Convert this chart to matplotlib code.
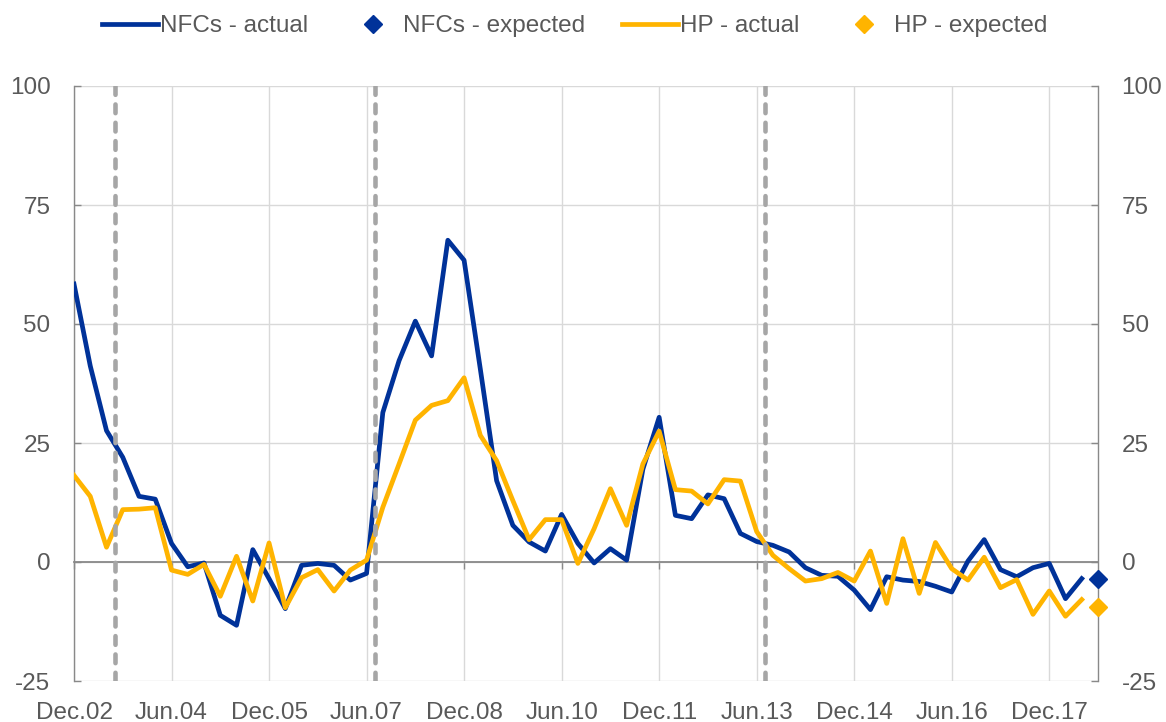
import numpy as np
import matplotlib
matplotlib.use("Agg")
import matplotlib.pyplot as plt

plt.rcParams['font.family'] = ['Liberation Sans', 'DejaVu Sans']
plt.rcParams['axes.unicode_minus'] = False

# ---------------- data ----------------
tick_labels = ["Dec.02", "Jun.04", "Dec.05", "Jun.07", "Dec.08", "Jun.10",
               "Dec.11", "Jun.13", "Dec.14", "Jun.16", "Dec.17"]

nfc_actual = [58.4, 41.2, 27.6, 22.0, 13.8, 13.2, 3.9, -1.0, -0.2, -11.2,
              -13.3, 2.6, -3.5, -9.8, -0.7, -0.3, -0.7, -3.8, -2.4, 31.4,
              42.3, 50.6, 43.3, 67.6, 63.4, 40.5, 17.1, 7.7, 4.2, 2.3,
              10.0, 3.9, -0.2, 2.8, 0.4, 19.5, 30.4, 9.8, 9.1, 14.1,
              13.3, 6.0, 4.3, 3.5, 2.1, -1.2, -2.8, -3.0, -5.9, -10.0,
              -3.1, -3.8, -4.1, -5.1, -6.3, 0.2, 4.7, -1.6, -3.1, -1.2,
              -0.3, -7.7, -3.5]
hp_actual = [18.2, 13.8, 3.1, 11.0, 11.1, 11.4, -1.7, -2.6, -0.5, -7.2,
             1.2, -8.2, 4.0, -9.6, -3.3, -1.6, -6.1, -1.7, 0.4, 11.5,
             20.6, 29.8, 32.9, 33.9, 38.7, 26.6, 21.3, 12.9, 4.7, 8.9,
             8.9, -0.3, 7.0, 15.4, 7.7, 20.6, 27.5, 15.2, 14.9, 12.2,
             17.3, 17.0, 6.4, 1.4, -1.4, -4.0, -3.5, -2.2, -4.0, 2.3,
             -8.7, 4.9, -6.6, 4.1, -1.4, -3.8, 1.0, -5.4, -3.7, -11.0,
             -6.1, -11.4, -7.9]
nfc_expected = [-3.5]
hp_expected = [-9.4]

# quarter positions of the dashed vertical markers (between quarters)
breaks = [2.5, 18.5, 42.5]

# ---------------- styling ----------------
BLUE = "#003299"
ORANGE = "#FFB400"
TXT = "#595959"
AX = "#898989"
GRID = "#D9D9D9"

fig = plt.figure(figsize=(11.66, 7.22), dpi=100)
ax = fig.add_axes([74 / 1166, 1 - 681 / 722, (1098 - 74) / 1166, (681 - 86) / 722])

x_act = np.arange(len(nfc_actual))
x_exp = np.arange(len(nfc_actual), len(nfc_actual) + len(nfc_expected))

ax.plot(x_act, nfc_actual, color=BLUE, lw=3.4, zorder=3, label="NFCs - actual")
ax.plot(x_exp, nfc_expected, color=BLUE, marker='D', ms=9.5, zorder=4,
        label="NFCs - expected", linestyle='none', clip_on=False)
ax.plot(x_act, hp_actual, color=ORANGE, lw=3.4, zorder=3.5, label="HP - actual")
ax.plot(x_exp, hp_expected, color=ORANGE, marker='D', ms=9.5, zorder=4,
        label="HP - expected", linestyle='none', clip_on=False)

for b in breaks:
    ax.axvline(b, color="#A6A6A6", lw=3.3, dashes=(1.9, 2.1),
               dash_capstyle='round', zorder=5)

ax.set_xlim(0, len(nfc_actual))
ax.set_ylim(-25, 100)
ax.set_yticks([-25, 0, 25, 50, 75, 100])
xt = np.arange(0, 6 * len(tick_labels), 6)
ax.set_xticks(xt)
ax.grid(True, color=GRID, lw=1.0, zorder=0)
ax.set_axisbelow(True)

for s in ['left', 'right']:
    ax.spines[s].set_color(AX)
    ax.spines[s].set_linewidth(1.0)
ax.spines['top'].set_visible(False)
ax.spines['bottom'].set_position(('data', 0))
ax.spines['bottom'].set_color(AX)
ax.spines['bottom'].set_linewidth(1.3)
ax.spines['bottom'].set_zorder(2)

ax.tick_params(axis='x', direction='out', length=5, color=AX, width=1,
               labelbottom=False)
ax.tick_params(axis='y', direction='in', length=5, color=AX, width=1,
               left=True, right=True, labelleft=True, labelright=True,
               labelsize=17.5, labelcolor=TXT, pad=17)

sec = ax.secondary_xaxis(0)
sec.set_xticks(xt, tick_labels)
sec.tick_params(length=0, pad=15, labelsize=17.5, labelcolor=TXT)
sec.spines['bottom'].set_visible(False)

handles, labels = ax.get_legend_handles_labels()
fig.legend(handles, labels, loc='center', bbox_to_anchor=(575 / 1166, 1 - 26 / 722),
           ncol=4, frameon=False, fontsize=17.5, handlelength=2.3,
           handletextpad=0.1, columnspacing=1.5, labelcolor=TXT)

fig.savefig("out.png", dpi=100)
